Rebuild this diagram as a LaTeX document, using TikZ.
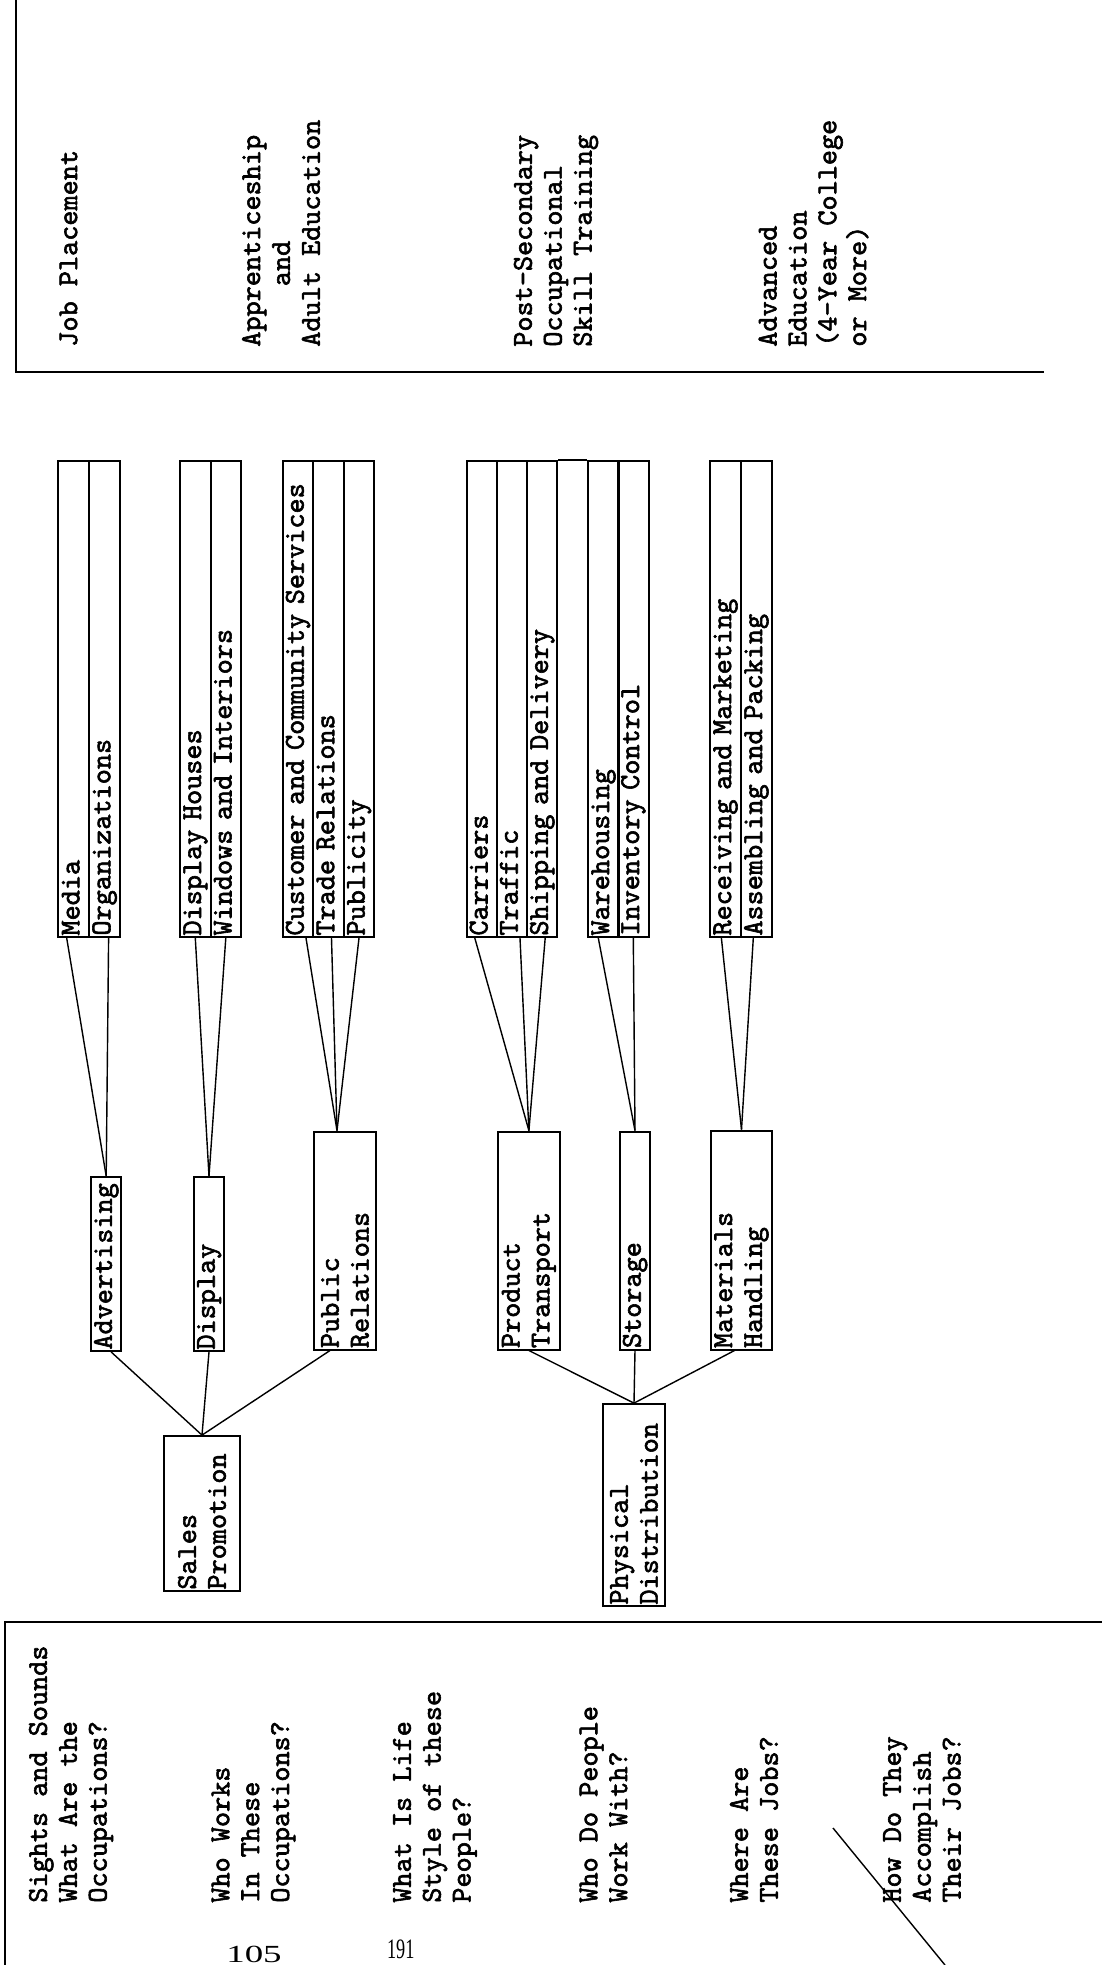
\documentclass[tikz,border=0pt]{standalone}
\usepackage{fontspec}
\setmainfont{Liberation Serif}
\setmonofont{lmmono10-regular.otf}[FakeBold=2]
\tikzset{
  box/.style={draw, line width=1.1pt, rotate=90, anchor=west, inner xsep=0.03cm, inner ysep=0pt, align=left},
  leaf/.style={box, minimum width=9.52cm, minimum height=0.61cm, text width=9.46cm, text height=10pt, text depth=3.5pt},
  one/.style={minimum height=0.6cm, text height=10pt, text depth=3.5pt},
  head/.style={rotate=90, anchor=west, inner sep=0pt, align=left},
  link/.style={line width=0.8pt},
  rule/.style={line width=1.6pt}
}
\begin{document}
\begin{tikzpicture}[x=0.02cm, y=-0.02cm, font=\ttfamily\fontsize{16.4}{17}\selectfont]
\useasboundingbox[fill=white] (0,0) rectangle (1102,1965);

% frame lines
\draw[rule] (16,0) -- (16,372) -- (1044,372);
\draw[rule] (5,1965) -- (5,1622) -- (1102,1622);

% levels of education
\node[head] (place) at (68.5,347) {Job Placement};
\node[head] (appr) at (281,347) {Apprenticeship\\\hphantom{xxxx}and\\Adult Education};
\node[head] (post) at (556,347) {Post-Secondary\\Occupational\\Skill Training};
\node[head] (college) at (813.5,347) {Advanced\\Education\\(4-Year College\\or More)};

% job families
\node[leaf] (media) at (73.7,938) {Media};
\node[leaf] (orgs) at (104.6,938) {Organizations};
\node[leaf] (houses) at (195.3,938) {Display Houses};
\node[leaf] (windows) at (225.8,938) {Windows and Interiors};
\node[leaf] (custom) at (298,938) {Customer and Community Services};
\node[leaf] (trade) at (328.5,938) {Trade Relations};
\node[leaf] (publ) at (359,938) {Publicity};
\node[leaf] (carr) at (481.8,938) {Carriers};
\node[leaf] (traf) at (512,938) {Traffic};
\node[leaf] (ship) at (542.2,938) {Shipping and Delivery};
\node[leaf] (ware) at (603.3,938) {Warehousing};
\node[leaf] (inv) at (633.3,938) {Inventory Control};
\node[leaf] (recv) at (725.4,938) {Receiving and Marketing};
\node[leaf] (asm) at (756.3,938) {Assembling and Packing};
\draw[line width=1.1pt] (ship.south east) -- (ware.north east);

% clusters
\node[box, one, minimum width=3.48cm, text width=3.42cm] (advert) at (106.2,1352) {Advertising};
\node[box, one, minimum width=3.48cm, text width=3.42cm] (disp) at (209,1352) {Display};
\node[box, minimum height=1.24cm, minimum width=4.36cm, text width=4.3cm] (pubrel) at (345,1350.5) {Public\\Relations};
\node[box, minimum height=1.25cm, minimum width=4.36cm, text width=4.3cm] (transp) at (528.9,1350.5) {Product\\Transport};
\node[box, one, minimum width=4.36cm, text width=4.3cm] (stor) at (635,1350.5) {Storage};
\node[box, minimum height=1.21cm, minimum width=4.38cm, text width=4.32cm] (mater) at (741.5,1350.5) {Materials\\Handling};

\node[box, minimum height=1.52cm, minimum width=3.1cm, text width=3.04cm] (sales) at (202,1592) {Sales\\Promotion};
\node[box, minimum height=1.24cm, minimum width=4.04cm, text width=3.98cm] (phys) at (634,1607) {Physical\\Distribution};

% families to clusters
\draw[link] (media.west) ++(-7,0) -- (advert.east);
\draw[link] (orgs.west) ++(4,0) -- (advert.east);
\draw[link] (houses.west) -- (disp.east);
\draw[link] (windows.west) -- (disp.east);
\draw[link] (custom.west) ++(8,0) -- ([xshift=-0.16cm]pubrel.east);
\draw[link] (trade.west) ++(3,0) -- ([xshift=-0.16cm]pubrel.east);
\draw[link] (publ.west) -- ([xshift=-0.16cm]pubrel.east);
\draw[link] (carr.west) ++(-7,0) -- (transp.east);
\draw[link] (traf.west) ++(8,0) -- (transp.east);
\draw[link] (ship.west) ++(3,0) -- (transp.east);
\draw[link] (ware.west) ++(-5,0) -- (stor.east);
\draw[link] (inv.west) -- (stor.east);
\draw[link] (recv.west) ++(-4,0) -- (mater.east);
\draw[link] (asm.west) ++(-3,0) -- (mater.east);

% clusters to areas
\draw[link] (advert.west) ++(5,0) -- (sales.east);
\draw[link] (disp.west) -- (sales.east);
\draw[link] (pubrel.west) ++(-15,0) -- (sales.east);
\draw[link] (transp.west) -- (phys.east);
\draw[link] (stor.west) -- (phys.east);
\draw[link] (mater.west) ++(-7,0) -- (phys.east);

% questions
\node[head] (q1) at (71,1903) {Sights and Sounds\\What Are the\\Occupations?};
\node[head] (q2) at (253.5,1903) {Who Works\\In These\\Occupations?};
\node[head] (q3) at (435,1903) {What Is Life\\Style of these\\People?};
\node[head] (q4) at (603.5,1903) {Who Do People\\Work With?};
\node[head] (q5) at (754,1903) {Where Are\\These Jobs?};
\node[head] (q6) at (922,1903) {How Do They\\Accomplish\\Their Jobs?};
\draw[link] (833,1828) -- (945,1965);

% page numbers
\node[font=\rmfamily\fontsize{14}{14}\selectfont, inner sep=0pt, anchor=north] (oldno) at (254,1946) {\scalebox{1.5}[1]{105}};
\node[font=\rmfamily\fontsize{16}{16}\selectfont, inner sep=0pt, anchor=north] (pageno) at (400.7,1940) {\scalebox{0.65}[1]{191}};
\end{tikzpicture}
\end{document}
